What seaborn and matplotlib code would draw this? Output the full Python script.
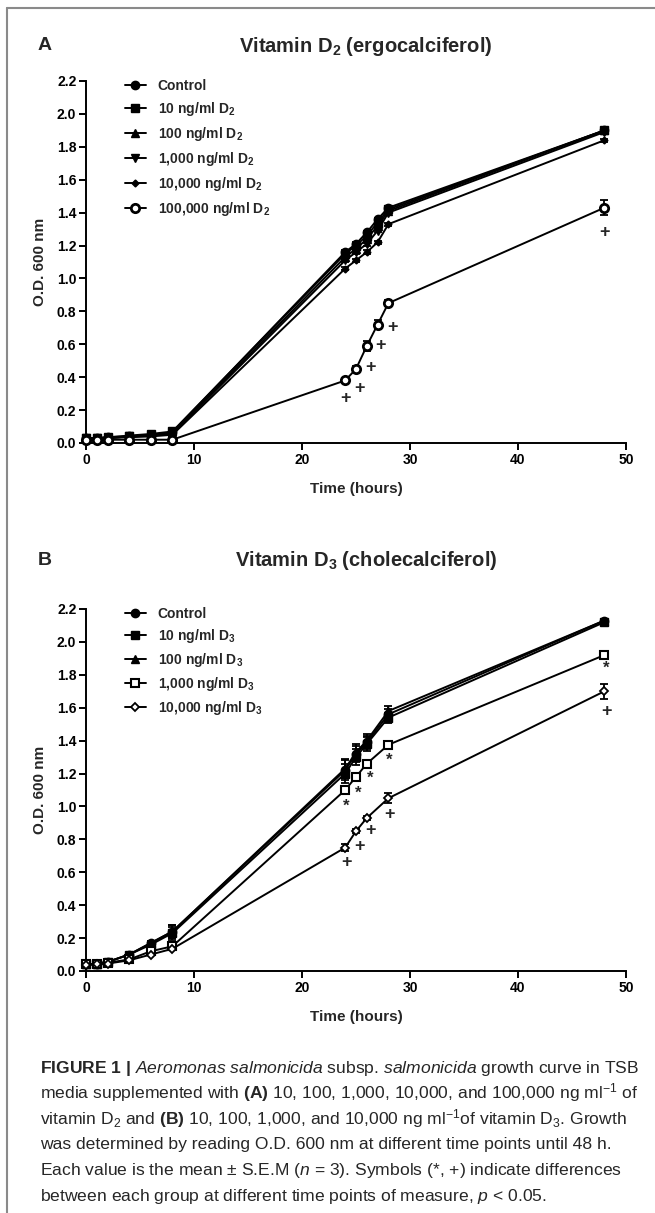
import matplotlib
matplotlib.use("Agg")
import matplotlib.pyplot as plt
import seaborn as sns
import numpy as np
from matplotlib.lines import Line2D
from matplotlib.ticker import FormatStrFormatter

sns.set_style("ticks")
plt.rcParams["font.family"] = ["Liberation Sans", "DejaVu Sans"]
plt.rcParams["mathtext.fontset"] = "custom"
plt.rcParams["mathtext.rm"] = "Liberation Sans"
plt.rcParams["mathtext.it"] = "Liberation Sans:italic"
plt.rcParams["mathtext.bf"] = "Liberation Sans:bold"

# ---- panel A data (vitamin D2) ----
time_a = [0, 1, 2, 4, 6, 8, 24, 25, 26, 27, 28, 48]
ctrl_a = [0.03, 0.03, 0.035, 0.04, 0.05, 0.065, 1.16, 1.21, 1.28, 1.36, 1.43, 1.90]
d2_10 = [0.03, 0.03, 0.035, 0.045, 0.055, 0.07, 1.15, 1.20, 1.26, 1.34, 1.42, 1.90]
d2_100 = [0.03, 0.03, 0.03, 0.04, 0.05, 0.06, 1.13, 1.18, 1.24, 1.32, 1.41, 1.90]
d2_1000 = [0.03, 0.03, 0.03, 0.04, 0.045, 0.055, 1.11, 1.16, 1.21, 1.29, 1.40, 1.89]
d2_10000 = [0.03, 0.03, 0.03, 0.035, 0.04, 0.05, 1.06, 1.11, 1.16, 1.22, 1.33, 1.84]
d2_100000 = [0.02, 0.02, 0.02, 0.02, 0.02, 0.02, 0.38, 0.45, 0.59, 0.72, 0.85, 1.43]
sem_a_small = [0.005, 0.005, 0.005, 0.005, 0.005, 0.005, 0.01, 0.01, 0.01, 0.01, 0.01, 0.01]
sem_a_100000 = [0.005, 0.005, 0.005, 0.005, 0.005, 0.005, 0.015, 0.015, 0.03, 0.03, 0.02, 0.045]
labels_a = ["Control", r"10 ng/ml D$_\mathbf{2}$", r"100 ng/ml D$_\mathbf{2}$",
            r"1,000 ng/ml D$_\mathbf{2}$", r"10,000 ng/ml D$_\mathbf{2}$",
            r"100,000 ng/ml D$_\mathbf{2}$"]
plus_a_x = [24, 25.3, 26.3, 27.3, 28.4, 48]
plus_a_y = [0.27, 0.33, 0.46, 0.59, 0.70, 1.28]

# ---- panel B data (vitamin D3) ----
time_b = [0, 1, 2, 4, 6, 8, 24, 25, 26, 28, 48]
ctrl_b = [0.04, 0.045, 0.055, 0.10, 0.17, 0.24, 1.22, 1.32, 1.39, 1.56, 2.13]
d3_10 = [0.04, 0.045, 0.055, 0.10, 0.16, 0.23, 1.20, 1.30, 1.38, 1.54, 2.12]
d3_100 = [0.04, 0.045, 0.055, 0.10, 0.17, 0.24, 1.23, 1.33, 1.40, 1.58, 2.13]
d3_1000 = [0.04, 0.045, 0.05, 0.07, 0.12, 0.15, 1.10, 1.18, 1.26, 1.375, 1.92]
d3_10000 = [0.035, 0.04, 0.045, 0.065, 0.10, 0.135, 0.75, 0.85, 0.93, 1.05, 1.70]
sem_b_top = [0.01, 0.01, 0.01, 0.01, 0.015, 0.04, 0.06, 0.05, 0.04, 0.03, 0.01]
sem_b_1000 = [0.005, 0.005, 0.005, 0.005, 0.01, 0.01, 0.01, 0.01, 0.01, 0.01, 0.01]
sem_b_10000 = [0.005, 0.005, 0.005, 0.005, 0.005, 0.005, 0.02, 0.01, 0.01, 0.03, 0.045]
labels_b = ["Control", r"10 ng/ml D$_\mathbf{3}$", r"100 ng/ml D$_\mathbf{3}$",
            r"1,000 ng/ml D$_\mathbf{3}$", r"10,000 ng/ml D$_\mathbf{3}$"]
star_b_x = [24.1, 25.2, 26.3, 28.1, 48.2]
star_b_y = [1.00, 1.08, 1.17, 1.28, 1.84]
plus_b_x = [24.1, 25.3, 26.35, 28.1, 48.2]
plus_b_y = [0.66, 0.756, 0.854, 0.95, 1.58]

caption = [
    r"$\mathbf{FIGURE\ 1\ |}$ $\mathit{Aeromonas\ salmonicida}$ subsp. $\mathit{salmonicida}$ growth curve in TSB",
    r"media supplemented with $\mathbf{(A)}$ 10, 100, 1,000, 10,000, and 100,000 ng ml$^{-1}$ of",
    r"vitamin D$_2$ and $\mathbf{(B)}$ 10, 100, 1,000, and 10,000 ng ml$^{-1}$of vitamin D$_3$. Growth",
    r"was determined by reading O.D. 600 nm at different time points until 48 h.",
    r"Each value is the mean $\pm$ S.E.M ($n$ = 3). Symbols (*, +) indicate differences",
    r"between each group at different time points of measure, $p$ < 0.05.",
]

W, H = 655, 1213
fig = plt.figure(figsize=(W / 100, H / 100), dpi=100)


def px_axes(left, top, right, bottom):
    return fig.add_axes([left / W, 1 - bottom / H, (right - left) / W, (bottom - top) / H])


def draw_series(ax, t, vals, err, label, marker, ms, mfc, mew):
    sns.lineplot(x=t, y=vals, ax=ax, color="black", lw=1.4, marker=marker,
                 markersize=ms, markerfacecolor=mfc, markeredgecolor="black",
                 markeredgewidth=mew, label=label, clip_on=False, zorder=3)
    ax.errorbar(t, vals, yerr=err, fmt="none", ecolor="black", elinewidth=1.3,
                capsize=3, capthick=1.3, clip_on=False, zorder=2)


def style_axes(ax, legend_spacing):
    ax.set_xlim(0, 50)
    ax.set_ylim(0, 2.2)
    ax.set_xticks(range(0, 51, 10))
    ax.set_yticks(np.arange(0, 2.21, 0.2))
    ax.yaxis.set_major_formatter(FormatStrFormatter("%.1f"))
    sns.despine(ax=ax)
    for s in ["left", "bottom"]:
        ax.spines[s].set_linewidth(1.4)
        ax.spines[s].set_color("black")
    ax.tick_params(direction="out", length=5, width=1.4, labelsize=10, pad=2, colors="black")
    for lab in ax.get_xticklabels() + ax.get_yticklabels():
        lab.set_fontweight("bold")
    ax.set_xlabel("")
    ax.set_ylabel("")
    handles, labels = ax.get_legend_handles_labels()
    ax.legend(handles, labels, loc="upper left", bbox_to_anchor=(0.072, 1.005),
              frameon=False, borderpad=0, borderaxespad=0, handlelength=1.5,
              handletextpad=0.85, labelspacing=legend_spacing,
              prop={"weight": "bold", "size": 10})


# panel A
ax_a = px_axes(86, 81, 626, 443)
draw_series(ax_a, time_a, ctrl_a, sem_a_small, labels_a[0], "o", 6, "black", 1)
draw_series(ax_a, time_a, d2_10, sem_a_small, labels_a[1], "s", 6, "black", 1)
draw_series(ax_a, time_a, d2_100, sem_a_small, labels_a[2], "^", 6, "black", 1)
draw_series(ax_a, time_a, d2_1000, sem_a_small, labels_a[3], "v", 6, "black", 1)
draw_series(ax_a, time_a, d2_10000, sem_a_small, labels_a[4], "D", 3.5, "black", 1)
draw_series(ax_a, time_a, d2_100000, sem_a_100000, labels_a[5], "o", 6, "white", 2)
style_axes(ax_a, 0.5)
for x, y in zip(plus_a_x, plus_a_y):
    ax_a.text(x, y, "+", ha="center", va="center", fontsize=13, fontweight="bold")

# panel B
ax_b = px_axes(86, 609, 626, 971)
draw_series(ax_b, time_b, ctrl_b, sem_b_top, labels_b[0], "o", 6, "black", 1)
draw_series(ax_b, time_b, d3_10, sem_b_top, labels_b[1], "s", 6, "black", 1)
draw_series(ax_b, time_b, d3_100, sem_b_top, labels_b[2], "^", 6, "black", 1)
draw_series(ax_b, time_b, d3_1000, sem_b_1000, labels_b[3], "s", 6, "white", 1.5)
draw_series(ax_b, time_b, d3_10000, sem_b_10000, labels_b[4], "D", 4, "white", 1.3)
style_axes(ax_b, 0.42)
for x, y in zip(star_b_x, star_b_y):
    ax_b.text(x, y, "*", ha="center", va="center", fontsize=12, fontweight="bold")
for x, y in zip(plus_b_x, plus_b_y):
    ax_b.text(x, y, "+", ha="center", va="center", fontsize=13, fontweight="bold")

# titles and axis labels
for top, letter, title in [(46, "A", r"Vitamin D$_\mathbf{2}$ (ergocalciferol)"),
                           (560, "B", r"Vitamin D$_\mathbf{3}$ (cholecalciferol)")]:
    fig.text(38 / W, 1 - top / H, letter, fontsize=14, fontweight="bold", va="center")
    fig.text(366 / W, 1 - top / H, title, fontsize=14.5, fontweight="bold", va="center", ha="center")
for mid, xl in [(262, 489), (790, 1017)]:
    fig.text(40 / W, 1 - mid / H, "O.D. 600 nm", rotation=90, fontsize=11,
             fontweight="bold", ha="center", va="center")
    fig.text(356 / W, 1 - xl / H, "Time (hours)", fontsize=11, fontweight="bold",
             ha="center", va="center")

# caption, sized so the longer lines fill the text width
size = 11.5
probe = fig.text(0, 0, caption[1], fontsize=size)
fig.canvas.draw()
size = size * 598 / probe.get_window_extent().width
probe.remove()
for i, line in enumerate(caption):
    fig.text(40 / W, 1 - (1073 + i * 25.5) / H, line, fontsize=size, va="baseline")

# page frame (left and top rules)
fig.add_artist(Line2D([7 / W, 7 / W], [0, 1 - 8 / H], color="#8a8a8a", lw=1.5,
                      transform=fig.transFigure))
fig.add_artist(Line2D([7 / W, 1], [1 - 8 / H, 1 - 8 / H], color="#8a8a8a", lw=1.5,
                      transform=fig.transFigure))

fig.savefig("out.png", dpi=100)
